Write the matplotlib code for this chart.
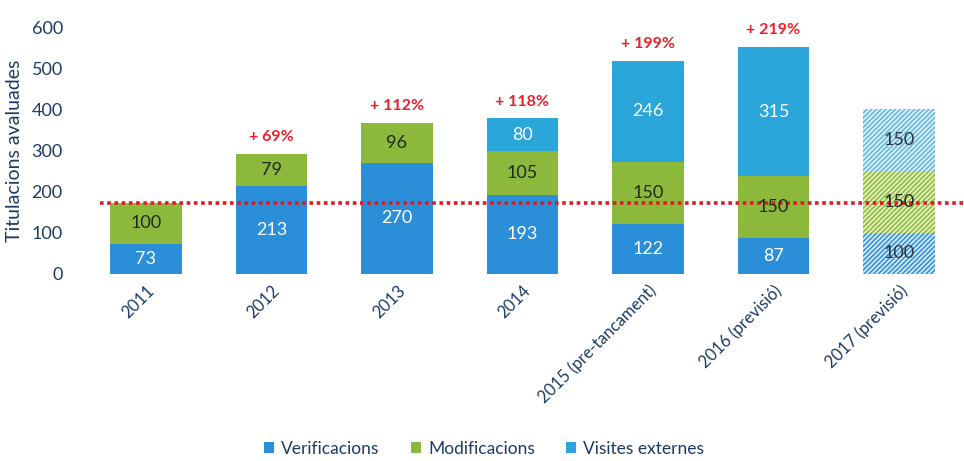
import matplotlib

matplotlib.use("Agg")
import matplotlib.pyplot as plt  # noqa: E402
import numpy as np  # noqa: E402

plt.rcParams["font.family"] = ["Lato", "DejaVu Sans"]
plt.rcParams["hatch.linewidth"] = 1.1

categories = ["2011", "2012", "2013", "2014", "2015 (pre-tancament)",
              "2016 (previsió)", "2017 (previsió)"]
verificacions = [73, 213, 270, 193, 122, 87, 100]
modificacions = [100, 79, 96, 105, 150, 150, 150]
visites = [0, 0, 0, 80, 246, 315, 150]
growth_labels = ["", "+ 69%", "+ 112%", "+ 118%", "+ 199%", "+ 219%", ""]
baseline = 173

navy = "#1c3a66"
c_ver = "#2a8fd8"
c_mod = "#8cb83c"
c_vis = "#2aa6da"

fig = plt.figure(figsize=(9.64, 4.61), dpi=100)
ax = fig.add_axes([85 / 964, 1 - 274 / 461, 879 / 964, 247 / 461])

x = np.arange(len(categories))
w = 0.57
ver = np.array(verificacions)
mod = np.array(modificacions)
vis = np.array(visites)

solid = slice(0, 6)
ax.bar(x[solid], ver[solid], w, color=c_ver, label="Verificacions")
ax.bar(x[solid], mod[solid], w, bottom=ver[solid], color=c_mod, label="Modificacions")
ax.bar(x[solid], vis[solid], w, bottom=(ver + mod)[solid], color=c_vis,
       label="Visites externes")

# forecast bar, hatched
ax.bar(x[6], ver[6], w, facecolor="#d6e8f7", edgecolor=c_ver, hatch="///////", linewidth=0)
ax.bar(x[6], mod[6], w, bottom=ver[6], facecolor="#e3f0c0", edgecolor=c_mod,
       hatch="///////", linewidth=0)
ax.bar(x[6], vis[6], w, bottom=ver[6] + mod[6], facecolor="#dcf0f9", edgecolor="#5fb6dd",
       hatch="///////", linewidth=0)

for i in range(len(categories)):
    fc = "#2a3540" if i == 6 else "white"
    ax.text(x[i], ver[i] / 2, str(ver[i]), ha="center", va="center", fontsize=13, color=fc)
    ax.text(x[i], ver[i] + mod[i] / 2, str(mod[i]), ha="center", va="center",
            fontsize=13, color="#1e2a1a")
    if vis[i]:
        ax.text(x[i], ver[i] + mod[i] + vis[i] / 2, str(vis[i]), ha="center", va="center",
                fontsize=13, color=fc)
    if growth_labels[i]:
        ax.text(x[i], ver[i] + mod[i] + vis[i] + 24, growth_labels[i], ha="center",
                va="bottom", fontsize=11.5, fontweight="bold", color="#e8202a", clip_on=False)

ax.plot([-0.37, 7], [baseline, baseline], color="#e01b24", linestyle=(0, (1, 1)),
        linewidth=2.6, clip_on=False)

ax.set_xlim(-0.486, 6.518)
ax.set_ylim(0, 600)
ax.set_yticks(range(0, 601, 100))
ax.tick_params(axis="y", length=0, pad=16, labelsize=13, labelcolor=navy)
ax.set_xticks(x)
ax.set_xticklabels(categories, rotation=45, ha="right", rotation_mode="anchor",
                   fontsize=12, color=navy)
ax.tick_params(axis="x", length=0, pad=6)
for s in ax.spines.values():
    s.set_visible(False)
ax.set_ylabel("Titulacions avaluades", fontsize=14, color=navy, labelpad=6)

fig.legend(*ax.get_legend_handles_labels(), loc="center",
           bbox_to_anchor=(484 / 964, 1 - 449 / 461), ncol=3, frameon=False,
           fontsize=12.5, handlelength=0.6, handleheight=0.6, columnspacing=1.8,
           handletextpad=0.4, labelcolor=navy, borderpad=0.2)

fig.savefig("out.png", dpi=100)
